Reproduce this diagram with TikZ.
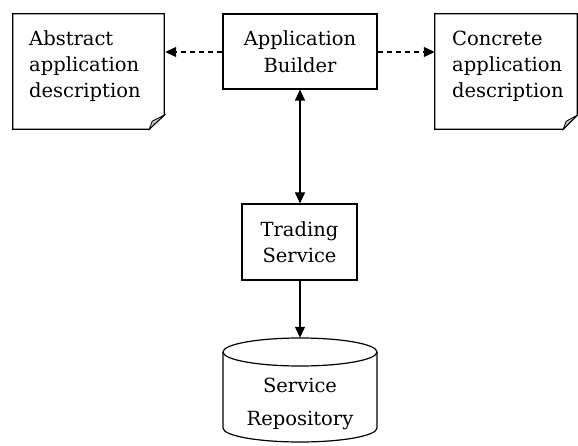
\documentclass[tikz,border=0pt]{standalone}
\usepackage{fontspec}
\setmainfont{DejaVu Serif}
\usetikzlibrary{arrows.meta}
\tikzset{
  box/.style={draw=black, line width=1.2pt, minimum width=#1, inner sep=0pt},
  hidden/.style={draw=none, inner sep=0pt},
  txt/.style={inner sep=0pt, font=\fontsize{19.5}{24}\selectfont},
  tip/.tip={Triangle[length=11pt,width=10pt]},
  link/.style={line width=1.2pt, -tip},
  both/.style={line width=1.2pt, tip-tip},
  dlink/.style={link, dash pattern=on 5pt off 4pt},
  outline/.style={draw=black, line width=1.2pt},
  fold/.style={draw=black, line width=0.8pt, fill=black!25}
}
\begin{document}
\begin{tikzpicture}[x=1pt, y=-1pt]
  \useasboundingbox[fill=white] (0,0) rectangle (578,446);

  % boxes
  \node[box=154pt, minimum height=75pt] (builder) at (300,51.5) {};
  \node[box=115pt, minimum height=76pt] (trading) at (299.5,242) {};
  \node[hidden, minimum width=151pt, minimum height=115pt] (abstract) at (88.5,71.5) {};
  \node[hidden, minimum width=142pt, minimum height=115pt] (concrete) at (506,71.5) {};
  \node[hidden, minimum width=154pt, minimum height=104pt] (repo) at (300,390) {};

  % documents with a turned-down corner
  \draw[outline] (abstract.north west) -- (abstract.north east) -- ([yshift=14pt]abstract.south east)
     -- ([xshift=-15pt]abstract.south east) -- (abstract.south west) -- cycle;
  \draw[fold] ([xshift=-15pt]abstract.south east) -- ([xshift=-12pt,yshift=8pt]abstract.south east)
     -- ([yshift=14pt]abstract.south east) -- cycle;
  \draw[outline] (concrete.north west) -- (concrete.north east) -- ([yshift=14pt]concrete.south east)
     -- ([xshift=-14pt]concrete.south east) -- (concrete.south west) -- cycle;
  \draw[fold] ([xshift=-14pt]concrete.south east) -- ([xshift=-11pt,yshift=8pt]concrete.south east)
     -- ([yshift=14pt]concrete.south east) -- cycle;

  % repository cylinder
  \draw[outline] (300,352) ellipse [x radius=77, y radius=14];
  \draw[outline] (223,352) -- (223,428) arc [start angle=180, end angle=360, x radius=77, y radius=-14] -- (377,352);

  % texts
  \node[txt, anchor=base west] (t1) at (29,46) {Abstract};
  \node[txt, anchor=base west] (t2) at (29,72) {application};
  \node[txt, anchor=base west] (t3) at (29,98) {description};
  \node[txt, anchor=base] (t4) at (300,46) {Application};
  \node[txt, anchor=base] (t5) at (300,73) {Builder};
  \node[txt, anchor=base west] (t6) at (452,46) {Concrete};
  \node[txt, anchor=base west] (t7) at (452,72) {application};
  \node[txt, anchor=base west] (t8) at (452,98) {description};
  \node[txt, anchor=base] (t9) at (299.5,237) {Trading};
  \node[txt, anchor=base] (t10) at (299.5,263) {Service};
  \node[txt, anchor=base] (t11) at (300,392) {Service};
  \node[txt, anchor=base] (t12) at (300,425) {Repository};

  % connectors
  \draw[dlink] (builder.west |- 0,52) -- ([xshift=1pt]abstract.east |- 0,52);
  \draw[dlink] (builder.east |- 0,52) -- (concrete.west |- 0,52);
  \draw[both] (builder.south -| 300,0) -- (trading.north -| 300,0);
  \draw[link] (trading.south -| 300,0) -- (repo.north);
\end{tikzpicture}
\end{document}
